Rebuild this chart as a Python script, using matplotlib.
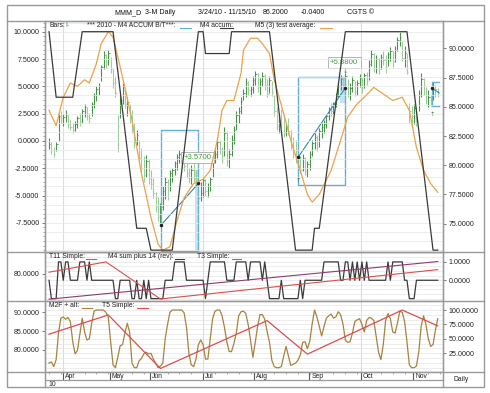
import numpy as np
import matplotlib
matplotlib.use('Agg')
import matplotlib.pyplot as plt
from matplotlib.patches import Rectangle
from matplotlib.ticker import FormatStrFormatter, MultipleLocator

plt.rcParams['font.family'] = ['Liberation Sans', 'DejaVu Sans']
W, H = 490, 393

# ---- daily bars (3/24/10 - 11/15/10) ----
hi = [82.3, 82.0, 81.6, 82.0, 84.5, 84.6, 84.4, 84.7, 84.3, 83.9,
      83.6, 83.8, 84.2, 84.5, 84.8, 85.2, 85.0, 84.5, 85.4, 86.2,
      86.8, 87.0, 88.6, 89.8, 89.5, 89.9, 89.3, 88.2, 87.6, 84.3,
      86.0, 87.0, 86.6, 85.8, 85.2, 84.7, 83.6, 83.0, 82.2, 81.5,
      80.8, 80.9, 80.5, 79.6, 78.9, 77.7, 77.3, 76.8, 78.2, 79.0,
      78.8, 79.6, 79.8, 80.4, 81.0, 81.3, 81.1, 80.6, 80.2, 79.8,
      80.0, 80.2, 79.6, 79.8, 78.6, 79.0, 78.8, 78.5, 79.0, 80.6,
      81.4, 82.4, 82.2, 81.6, 83.3, 82.9, 81.4, 82.6, 83.4, 84.6,
      85.0, 85.8, 86.5, 87.5, 87.2, 86.8, 87.6, 88.1, 87.9, 87.5,
      88.0, 87.8, 87.4, 87.6, 87.2, 86.0, 85.0, 84.4, 84.8, 84.2,
      83.6, 84.0, 83.0, 82.4, 82.2, 81.3, 80.8, 81.0, 80.7, 80.4,
      81.2, 82.2, 82.8, 82.6, 83.2, 83.6, 83.9, 84.4, 85.0, 85.3,
      85.4, 86.2, 87.0, 87.7, 87.5, 87.9, 87.4, 87.0, 87.6, 87.2,
      87.3, 87.8, 87.5, 87.9, 88.0, 89.0, 89.9, 89.6, 89.4, 89.2,
      89.5, 89.8, 89.4, 89.7, 90.1, 89.8, 90.2, 91.0, 91.4, 90.6,
      90.2, 89.6, 85.3, 85.1, 85.2, 85.0, 86.4, 87.9, 87.5, 86.7,
      86.4, 86.0, 87.1, 86.9, 86.6]
lo = [81.4, 81.0, 80.7, 81.2, 82.1, 83.6, 83.4, 83.7, 83.2, 83.0,
      82.8, 82.9, 83.2, 83.4, 83.6, 84.1, 83.9, 83.6, 84.2, 84.9,
      85.5, 86.0, 87.2, 88.2, 88.3, 88.6, 87.9, 86.6, 85.8, 81.1,
      84.0, 85.2, 84.9, 84.2, 83.6, 82.8, 81.5, 81.7, 80.2, 79.4,
      78.6, 79.0, 78.4, 78.0, 77.2, 76.0, 75.2, 75.0, 76.2, 77.1,
      77.0, 77.8, 78.6, 79.2, 79.6, 80.2, 79.8, 79.5, 78.9, 78.5,
      78.4, 78.6, 78.1, 76.8, 76.9, 77.3, 77.4, 77.3, 77.8, 79.0,
      80.2, 80.6, 81.0, 80.2, 80.8, 79.9, 79.8, 80.8, 81.8, 83.0,
      83.6, 84.4, 85.6, 85.8, 86.0, 85.9, 86.2, 86.9, 86.3, 86.0,
      86.8, 86.4, 85.8, 86.2, 85.9, 84.2, 83.0, 82.8, 83.2, 82.4,
      82.5, 82.6, 81.4, 80.6, 80.2, 79.6, 79.3, 79.5, 79.2, 79.0,
      79.6, 80.8, 81.4, 81.2, 81.6, 82.3, 82.8, 83.2, 83.9, 84.2,
      84.4, 85.0, 85.8, 86.4, 86.5, 86.6, 85.8, 85.6, 86.3, 85.9,
      86.0, 86.7, 86.2, 86.6, 86.9, 87.3, 88.5, 88.0, 87.9, 87.8,
      88.2, 88.6, 87.9, 88.5, 88.9, 88.4, 88.8, 89.8, 90.2, 88.9,
      88.4, 87.8, 83.6, 83.3, 83.5, 83.4, 84.6, 85.8, 86.0, 85.2,
      85.0, 85.1, 85.6, 85.8, 85.8]
cl = [81.8, 81.3, 81.0, 81.8, 84.2, 84.0, 84.1, 84.3, 83.5, 83.3,
      83.0, 83.5, 84.0, 83.7, 84.6, 85.0, 84.2, 84.0, 85.2, 86.0,
      86.5, 86.8, 88.4, 89.4, 88.8, 89.6, 88.2, 87.0, 86.2, 83.4,
      85.6, 86.4, 85.2, 85.4, 84.0, 83.1, 82.0, 82.6, 80.6, 79.8,
      79.2, 80.4, 78.8, 78.4, 77.6, 76.5, 75.6, 76.4, 77.8, 78.6,
      77.4, 79.3, 79.6, 80.2, 80.7, 81.0, 80.3, 79.9, 79.3, 78.9,
      79.6, 78.9, 78.5, 77.2, 77.6, 78.7, 77.8, 78.2, 78.8, 80.2,
      81.0, 82.0, 81.4, 80.8, 82.8, 80.4, 81.0, 82.2, 83.0, 84.3,
      84.6, 85.5, 86.2, 87.0, 86.4, 86.5, 87.3, 87.8, 86.7, 87.2,
      87.6, 86.9, 86.1, 87.3, 86.3, 84.6, 83.4, 83.9, 83.6, 82.8,
      83.2, 82.9, 81.7, 81.0, 80.8, 80.0, 79.6, 80.6, 79.5, 80.1,
      81.0, 81.9, 82.4, 81.6, 82.9, 83.3, 83.5, 84.2, 84.8, 84.6,
      85.2, 85.9, 86.8, 87.4, 86.9, 87.6, 86.2, 86.6, 87.3, 86.3,
      87.0, 87.5, 86.6, 87.7, 87.2, 88.7, 89.5, 88.3, 89.1, 88.2,
      89.3, 89.0, 88.4, 89.5, 89.8, 88.8, 89.9, 90.7, 91.0, 89.2,
      89.6, 88.0, 84.6, 84.2, 84.9, 83.8, 86.0, 87.4, 86.3, 85.6,
      85.8, 85.4, 86.8, 86.5, 86.2]

# M4 accum (black, left scale): vertices at trading-day index
m4_days = [0, 3, 10, 14, 27, 37, 41, 43, 52, 63, 65, 66, 76, 77, 93, 104,
           111, 112, 114, 125, 151, 162, 164]
m4_vals = [10, 4, 4, 10, 10, -8, -8, -10, -10, 10, 10, 8, 8, 10, 10, -10,
           -10, -8, -8, 10, 10, -10, -10]

# M5 (3) test average (orange, left scale)
m5_days = [0, 3, 6, 9, 12, 15, 17, 20, 22, 25, 27, 29, 32, 35, 39, 43, 46, 48,
           51, 54, 57, 61, 65, 68, 71, 73, 75, 78, 81, 82, 85, 88, 90, 93, 95,
           99, 102, 106, 109, 111, 114, 119, 123, 126, 130, 133, 137, 141, 145,
           149, 152, 155, 158, 161, 164]
m5_vals = [2.8, 1.4, 4.0, 5.3, 5.0, 5.6, 5.3, 7.1, 8.9, 10.0, 9.5, 7.7, 4.9,
           1.9, -3.0, -7.0, -9.45, -10.0, -9.7, -7.3, -5.2, -3.9, -3.5, -2.7,
           0.05, 2.8, 3.7, 3.7, 6.2, 8.3, 9.4, 9.4, 8.9, 8.0, 5.6, 2.5, 0.05,
           -2.7, -4.9, -5.6, -4.9, -2.7, 0.05, 2.2, 3.4, 4.0, 4.9, 4.3, 3.7,
           4.0, 2.8, -0.6, -2.7, -3.9, -4.7]

# trades: entry day, entry price, exit day, exit price, box low, box high, label
trade_in_day = [47.2, 105.2]
trade_in_px = [74.87, 80.72]
trade_out_day = [63.0, 124.9]
trade_out_px = [78.44, 86.58]
trade_box_lo = [72.7, 78.3]
trade_box_hi = [83.0, 87.57]
trade_label = ['+3.5700', '+5.8800']
trade_label_pos = [(62.6, 80.65), (124.5, 88.78)]
open_trade = (161.5, 164.5, 85.1, 87.1, 86.6, 86.2)

# middle panel
m4sum = [0, -1, -1, -1, 1, 1, 0, 1, 1, 0,
         0, 0, 0, 1, 1, 1, 0, 1, 0, 0,
         0, 0, 0, 0, 0, 0, 0, 0, -1, -1,
         0, 0, 0, 0, 0, -1, -1, 0, -1, -1,
         0, -1, 0, -1, -1, -1, -1, -1, -1, 0,
         0, 0, 0, 1, 1, 1, 1, 1, 0, 0,
         0, 0, 0, 0, 0, 0, -1, 0, 1, 1,
         1, 1, 1, 1, 1, 0, 0, 0, 0, 1,
         1, 1, 1, 1, 0, 1, 1, 1, 1, 1,
         0, 1, 0, -1, -1, -1, -1, -1, 0, -1,
         -1, -1, -1, -1, -1, -1, 0, -1, 0, 0,
         0, 0, 0, 0, 0, 0, 1, 1, 1, 1,
         1, 1, 1, 0, 0, 1, 1, 0, 1, 0,
         1, 0, 1, 0, 1, 0, 0, 0, 0, 0,
         0, 0, 0, 1, 0, 1, 1, 1, 1, 1,
         0, 0, -1, -1, -1, 0, 0, 0, 0, 0,
         0, 0, 0, 0, 0]
t11_days = [0, 164]
t11_vals = [-1.03, 1.02]
t3_days = [0, 24, 47, 164]
t3_vals = [0.44, 1.0, -1.02, 0.58]

# bottom panel
m2f = [8, 10, 2, 14, 60, 86, 88, 84, 87, 80,
       45, 24, 30, 58, 86, 62, 48, 50, 77, 98,
       100, 100, 100, 100, 96, 88, 45, 5, 0, 18,
       38, 40, 60, 77, 62, 8, 0, 0, 12, 16,
       24, 27, 24, 25, 15, 8, 0, 3, 8, 50,
       75, 96, 100, 100, 100, 100, 100, 95, 70, 25,
       5, 2, 15, 40, 48, 40, 15, 15, 50, 85,
       98, 100, 100, 90, 70, 45, 28, 28, 42, 60,
       90, 97, 98, 94, 75, 48, 18, 44, 72, 92,
       92, 84, 63, 44, 13, 2, 0, 0, 2, 20,
       37, 20, 4, 6, 8, 13, 22, 44, 45, 33,
       46, 76, 100, 88, 72, 55, 71, 86, 90, 93,
       86, 88, 97, 92, 76, 48, 44, 45, 60, 80,
       83, 85, 75, 62, 82, 87, 86, 82, 55, 27,
       14, 40, 82, 94, 85, 62, 60, 78, 98, 96,
       80, 45, 5, 0, 0, 3, 28, 72, 90, 75,
       50, 37, 40, 65, 85]
t5_days = [0, 25, 47, 92, 109, 149, 164]
t5_vals = [84.2, 89.3, 75.1, 87.8, 78.9, 90.6, 86.4]

month_names = ['Apr', 'May', 'Jun', 'Jul', 'Aug', 'Sep', 'Oct', 'Nov']
month_pos = [5.8, 25.7, 42.6, 64.8, 86.5, 109.8, 131.6, 153.7]
quarter_pos = [5.8, 64.8, 131.6]

XL = (-1.7, 166.2)
GRID = '#e6e6e6'
SPINE = '#8c8c8c'
FS = 5.1


def px_axes(x0, y0, x1, y1):
    return fig.add_axes([x0 / W, 1 - y1 / H, (x1 - x0) / W, (y1 - y0) / H])


def style(ax):
    ax.set_xlim(*XL)
    ax.set_xticks([])
    for s in ax.spines.values():
        s.set_color(SPINE)
        s.set_linewidth(0.8)
    ax.tick_params(axis='y', labelsize=FS, length=2.5, width=0.6,
                   color='#666666', labelcolor='#222222', pad=1.5)
    ax.tick_params(axis='y', which='minor', length=1.5, width=0.5, color='#888888')


def pair(x0, y0, x1, y1):
    # price/right axes underneath, left-scale twin on top
    a = px_axes(x0, y0, x1, y1)
    b = a.twinx()
    style(a)
    style(b)
    a.yaxis.tick_right()
    b.yaxis.tick_left()
    b.patch.set_visible(False)
    for q in quarter_pos:
        a.axvline(q, color='#dcdcdc', lw=0.8, zorder=0)
    return a, b


fig = plt.figure(figsize=(W / 100, H / 100), dpi=100)
days = np.arange(len(cl))
fmt = FormatStrFormatter('%.4f')

# ---------------- main panel ----------------
axp, axm = pair(45, 21, 443, 252)
axp.set_ylim(72.58, 92.34)
axp.set_yticks([75, 77.5, 80, 82.5, 85, 87.5, 90])
axp.yaxis.set_major_formatter(fmt)
axm.set_ylim(-10.17, 10.98)
axm.set_yticks([-7.5, -5, -2.5, 0, 2.5, 5, 7.5, 10])
axm.yaxis.set_minor_locator(MultipleLocator(2.5 / 6))
axm.yaxis.set_major_formatter(fmt)
for g in np.arange(-10, 11, 2.5 / 3):
    axm.axhline(g, color=GRID, lw=0.5, zorder=0)

prev = [cl[0]] + cl[:-1]
cols = ['#4a924a' if c >= p else '#9fcb9f' for c, p in zip(cl, prev)]
axp.vlines(days, lo, hi, colors=cols, lw=0.8, zorder=2)
axp.hlines(cl, days, days + 0.6, colors=cols, lw=0.6, zorder=2)

for k in range(len(trade_in_day)):
    x0, x1 = trade_in_day[k], trade_out_day[k]
    axp.add_patch(Rectangle((x0, trade_box_lo[k]), x1 - x0,
                            trade_box_hi[k] - trade_box_lo[k],
                            fill=False, ec='#62b0d2', lw=1.0, zorder=3))
    axp.plot([x0, x1], [trade_in_px[k], trade_out_px[k]], color='#2f86b5',
             lw=0.8, zorder=4)
    axp.plot([x0, x1], [trade_in_px[k], trade_out_px[k]], 'o', color='#222222',
             ms=1.5, zorder=5)
    lx, ly = trade_label_pos[k]
    axp.text(lx, ly, trade_label[k], color='#3a9a3a', fontsize=5.6,
             ha='center', va='center', zorder=6,
             bbox=dict(boxstyle='square,pad=0.3', fc='white', ec='#aaaaaa', lw=0.6))
axp.add_patch(Rectangle((61.6, 72.7), 1.4, 79.6 - 72.7, fc='#b9dcec', ec='none',
                        alpha=0.8, zorder=1))
axp.add_patch(Rectangle((122.8, 85.3), 2.1, 87.57 - 85.3, fc='#b9dcec', ec='none',
                        alpha=0.8, zorder=1))
for ax_, ay_, ch in [(105.2, 78.7, '↑'), (124.9, 88.0, '↓'), (161.5, 84.3, '↑')]:
    axp.text(ax_, ay_, ch, color='#2e7d2e', fontsize=4.5, ha='center', va='center',
             family=['DejaVu Sans'], zorder=6)
ox0, ox1, olo, ohi, oin, oout = open_trade
axp.plot([ox1, ox0, ox0, ox1], [ohi, ohi, olo, olo], color='#62b0d2', lw=1.0, zorder=3)
axp.plot([ox0, ox1], [oin, oout], color='#2f86b5', lw=0.8, zorder=4)
axp.plot([ox0], [oin], 'o', color='#222222', ms=1.5, zorder=5)

axm.plot(m5_days, m5_vals, color='#eaa24a', lw=0.9, zorder=3)
axm.plot(m4_days, m4_vals, color='#3a3a3a', lw=0.9, zorder=4)

# ---------------- middle panel ----------------
axc, axcl = pair(45, 252, 443, 301)
axc.set_ylim(-1.13, 1.54)
axc.set_yticks([0, 1])
axc.yaxis.set_major_formatter(fmt)
for g in np.arange(-1, 1.6, 0.25):
    axc.axhline(g, color=GRID, lw=0.5, zorder=0)
axc.plot(days, m4sum, color='#3a3a3a', lw=0.9, zorder=3)
axc.plot(t3_days, t3_vals, color='#d9504f', lw=0.8, zorder=4)
axc.plot(t11_days, t11_vals, color='#8e3c6c', lw=0.8, zorder=4)
axcl.set_ylim(77.78, 81.78)
axcl.set_yticks([80])
axcl.yaxis.set_major_formatter(fmt)

# ---------------- bottom panel ----------------
axb, axbl = pair(45, 301, 443, 372)
axb.set_ylim(-7.4, 115.6)
axb.set_yticks([25, 50, 75, 100])
axb.yaxis.set_major_formatter(fmt)
for g in np.arange(0, 116, 25 / 3):
    axb.axhline(g, color=GRID, lw=0.5, zorder=0)
axb.plot(days, m2f, color='#a8823f', lw=0.9, zorder=3)
axbl.set_ylim(74.16, 93.0)
axbl.set_yticks([80, 85, 90])
axbl.yaxis.set_major_formatter(fmt)
axbl.plot(t5_days, t5_vals, color='#d9504f', lw=0.9, zorder=4)

# ---------------- date axis ----------------
axd = px_axes(45, 372, 443, 380)
axd.set_xlim(*XL)
axd.set_ylim(0, 1)
axd.set_xticks([])
axd.set_yticks([])
for s in axd.spines.values():
    s.set_color(SPINE)
    s.set_linewidth(0.8)
for m, p in zip(month_names, month_pos):
    axd.axvline(p, color='#555555', lw=0.8)
    axd.text(p + 0.8, 0.42, m, fontsize=4.9, va='center', ha='left', color='#222222')
axd.vlines(np.arange(0, 166, 5), 0.8, 1.0, color='#888888', lw=0.5)

# ---------------- frame, title and legends ----------------
ov = fig.add_axes([0, 0, 1, 1], zorder=10)
ov.set_xlim(0, W)
ov.set_ylim(H, 0)
ov.axis('off')
ov.patch.set_visible(False)
lc = '#999999'
ov.add_patch(Rectangle((7, 5), 477, 382, fill=False, ec=lc, lw=1.0))
for y in (21, 252, 301, 372):
    ov.plot([7, 484], [y, y], color=lc, lw=1.0)
ov.plot([45, 443], [380, 380], color=lc, lw=0.8)
ov.plot([45, 45], [21, 387], color=lc, lw=1.0)
ov.plot([443, 443], [21, 387], color=lc, lw=1.0)

tk = dict(fontsize=5.1, va='center', ha='left', color='#111111')
ov.text(114, 13, 'MMM_D', **tk)
ov.text(145, 13, '3-M Daily', **tk)
ov.text(198, 13, '3/24/10 - 11/15/10', **tk)
ov.text(263, 13, '86.2000', **tk)
ov.text(301, 13, '-0.0400', **tk)
ov.text(347, 13, 'CGTS ©', **tk)

lk = dict(fontsize=4.9, va='center', ha='left', color='#222222')
ov.text(49, 25.5, 'Bars:', **lk)
ov.text(65, 25.5, 'I-', fontsize=4.9, va='center', ha='left', color='#3f8a3f')
ov.text(87, 25.5, '*** 2010 - M4 ACCUM B/T***:', **lk)
ov.plot([180, 191], [28, 28], color='#62b0d2', lw=0.8)
ov.text(200, 25.5, 'M4 accum:', **lk)
ov.plot([220, 233], [28, 28], color='#3a3a3a', lw=0.8)
ov.text(255, 25.5, 'M5 (3) test average:', **lk)
ov.plot([320, 332], [28, 28], color='#eaa24a', lw=0.8)

ov.text(49, 256, 'T11 Simple:', **lk)
ov.plot([86, 96], [258.5, 258.5], color='#d9504f', lw=0.8)
ov.text(108, 256, 'M4 sum plus 14 (rev):', **lk)
ov.plot([175, 184], [258.5, 258.5], color='#3a3a3a', lw=0.8)
ov.text(197, 256, 'T3 Simple:', **lk)
ov.plot([232, 241], [258.5, 258.5], color='#d9504f', lw=0.8)

ov.text(49, 305.5, 'M2F + alt:', **lk)
ov.plot([82, 92], [308, 308], color='#a8823f', lw=0.8)
ov.text(102, 305.5, 'T5 Simple:', **lk)
ov.plot([137, 148], [308, 308], color='#d9504f', lw=0.8)

ov.text(48, 384, '10', **lk)
ov.text(461, 379.5, 'Daily', fontsize=4.9, va='center', ha='center', color='#222222')

fig.savefig('out.png', dpi=100, facecolor='white')
